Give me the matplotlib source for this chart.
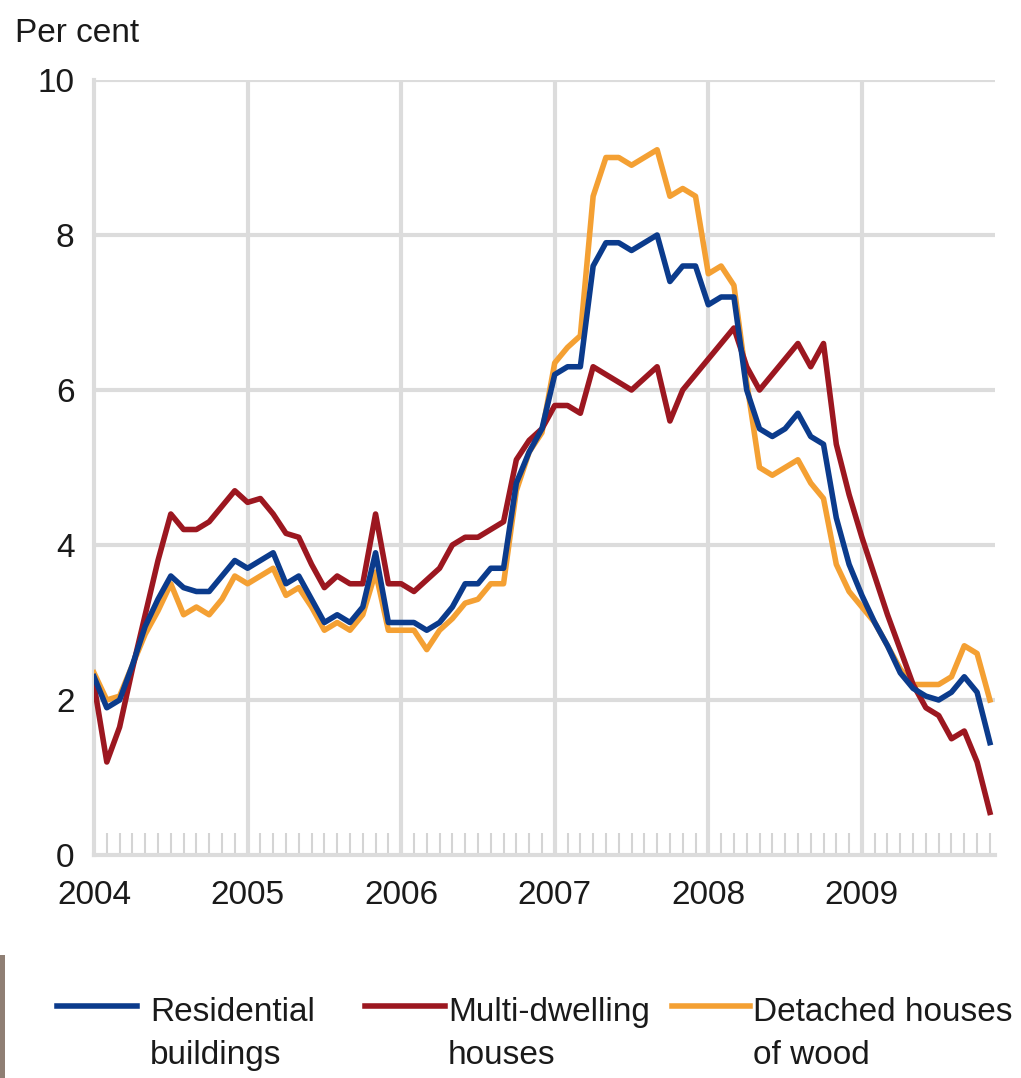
import numpy as np
import matplotlib
matplotlib.use("Agg")
import matplotlib.pyplot as plt
from matplotlib.lines import Line2D
from matplotlib.patches import Rectangle

plt.rcParams['font.family'] = ['Liberation Sans', 'DejaVu Sans']

years = ["2004", "2005", "2006", "2007", "2008", "2009"]
yticks = [0, 2, 4, 6, 8, 10]

residential = [2.3, 1.9, 2.0, 2.45, 2.95, 3.3, 3.6, 3.45, 3.4, 3.4, 3.6, 3.8,
               3.7, 3.8, 3.9, 3.5, 3.6, 3.3, 3.0, 3.1, 3.0, 3.2, 3.9, 3.0,
               3.0, 3.0, 2.9, 3.0, 3.2, 3.5, 3.5, 3.7, 3.7, 4.8, 5.2, 5.5,
               6.2, 6.3, 6.3, 7.6, 7.9, 7.9, 7.8, 7.9, 8.0, 7.4, 7.6, 7.6,
               7.1, 7.2, 7.2, 6.0, 5.5, 5.4, 5.5, 5.7, 5.4, 5.3, 4.35, 3.75,
               3.35, 3.0, 2.7, 2.35, 2.15, 2.05, 2.0, 2.1, 2.3, 2.1, 1.45]

multi_dwelling = [2.2, 1.2, 1.65, 2.4, 3.1, 3.8, 4.4, 4.2, 4.2, 4.3, 4.5, 4.7,
                  4.55, 4.6, 4.4, 4.15, 4.1, 3.75, 3.45, 3.6, 3.5, 3.5, 4.4, 3.5,
                  3.5, 3.4, 3.55, 3.7, 4.0, 4.1, 4.1, 4.2, 4.3, 5.1, 5.35, 5.5,
                  5.8, 5.8, 5.7, 6.3, 6.2, 6.1, 6.0, 6.15, 6.3, 5.6, 6.0, 6.2,
                  6.4, 6.6, 6.8, 6.3, 6.0, 6.2, 6.4, 6.6, 6.3, 6.6, 5.3, 4.65,
                  4.1, 3.6, 3.1, 2.65, 2.2, 1.9, 1.8, 1.5, 1.6, 1.2, 0.55]

detached_wood = [2.35, 2.0, 2.05, 2.45, 2.85, 3.15, 3.5, 3.1, 3.2, 3.1, 3.3, 3.6,
                 3.5, 3.6, 3.7, 3.35, 3.45, 3.2, 2.9, 3.0, 2.9, 3.1, 3.65, 2.9,
                 2.9, 2.9, 2.65, 2.9, 3.05, 3.25, 3.3, 3.5, 3.5, 4.7, 5.2, 5.45,
                 6.35, 6.55, 6.7, 8.5, 9.0, 9.0, 8.9, 9.0, 9.1, 8.5, 8.6, 8.5,
                 7.5, 7.6, 7.35, 6.1, 5.0, 4.9, 5.0, 5.1, 4.8, 4.6, 3.75, 3.4,
                 3.2, 3.0, 2.7, 2.4, 2.2, 2.2, 2.2, 2.3, 2.7, 2.6, 2.0]

labels = ["Residential\nbuildings", "Multi-dwelling\nhouses", "Detached houses\nof wood"]
colors = ["#0b3b8c", "#9c1720", "#f4a033"]

W, H = 1021, 1078
fig = plt.figure(figsize=(W / 100, H / 100), dpi=100)
ax = fig.add_axes([94 / W, 1 - 855 / H, (995 - 94) / W, (855 - 80) / H])

months = np.arange(len(residential))
grid_c = "#dcdcdc"

for i in range(1, len(years)):
    ax.axvline(12 * i, color=grid_c, lw=3, zorder=1)
for v in yticks[1:]:
    ax.axhline(v, color=grid_c, lw=3, zorder=1)

ax.plot(months, detached_wood, color=colors[2], lw=4, zorder=3)
ax.plot(months, multi_dwelling, color=colors[1], lw=4, zorder=4)
ax.plot(months, residential, color=colors[0], lw=4, zorder=5)

ax.set_xlim(0, 70.4)
ax.set_ylim(0, 10)
ax.set_xticks([12 * i for i in range(len(years))])
ax.set_xticklabels(years)
ax.set_xticks(np.arange(0, 71), minor=True)
ax.set_yticks(yticks)
ax.set_yticklabels([str(v) for v in yticks])
ax.tick_params(axis='x', which='major', length=0, pad=18, labelsize=24, colors='#1a1a1a')
ax.tick_params(axis='x', which='minor', direction='in', length=16, width=1.5, color='#d4d4d4')
ax.tick_params(axis='y', which='major', length=0, pad=14, labelsize=24, colors='#1a1a1a')

for s in ['top', 'right']:
    ax.spines[s].set_visible(False)
for s in ['left', 'bottom']:
    ax.spines[s].set_color(grid_c)
    ax.spines[s].set_linewidth(3)

fig.text(15 / W, 1 - 42 / H, "Per cent", fontsize=24, va='baseline', ha='left', color='#1a1a1a')

# legend drawn manually
handles = [(57, 137, 150), (365, 445, 448), (672, 750, 753)]
for (x0, x1, tx), lab, c in zip(handles, labels, colors):
    fig.add_artist(Line2D([x0 / W, x1 / W], [1 - 1006 / H, 1 - 1006 / H], color=c, lw=4))
    l1, l2 = lab.split("\n")
    fig.text(tx / W, 1 - 1021 / H, l1, fontsize=24, va='baseline', ha='left', color='#1a1a1a')
    fig.text(tx / W, 1 - 1064 / H, l2, fontsize=24, va='baseline', ha='left', color='#1a1a1a')

fig.add_artist(Rectangle((0, 0), 5 / W, (1078 - 955) / H, transform=fig.transFigure,
                         color="#8f7f74", lw=0))

fig.savefig("out.png", dpi=100, facecolor="white")
